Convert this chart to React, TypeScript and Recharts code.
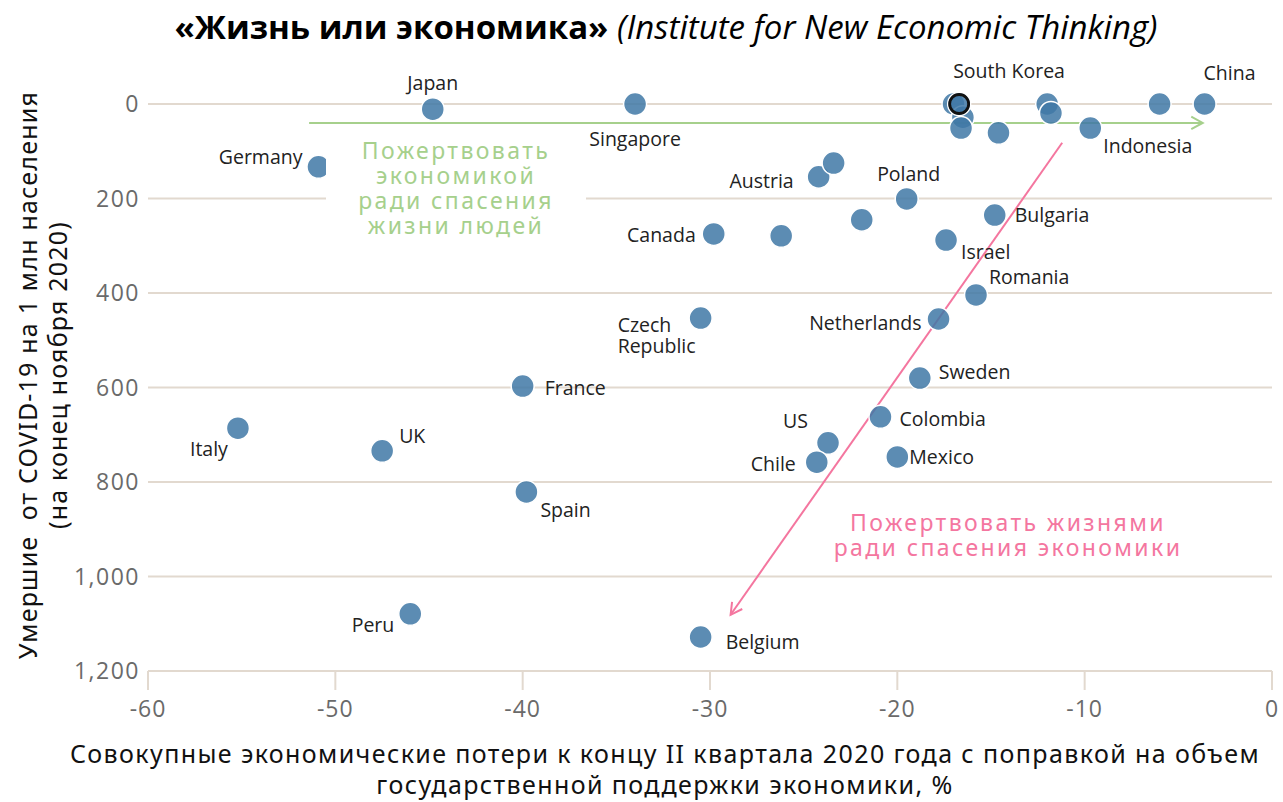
import React from "react";
import {
  ScatterChart,
  Scatter,
  XAxis,
  YAxis,
  CartesianGrid,
  ReferenceLine,
} from "recharts";

// ---- data ----
const countries: string[] = [
  "Japan", "Singapore", "Germany", "", "", "", "", "", "", "Indonesia", "", "China",
  "Austria", "", "Poland", "", "", "Canada", "Bulgaria", "Israel", "Romania", "Netherlands",
  "Czech Republic", "France", "Sweden", "Colombia", "US", "Chile", "Mexico", "Italy", "UK",
  "Spain", "Peru", "Belgium", "South Korea",
];
const economicLoss: number[] = [
  -44.8, -34.0, -50.9, -17.0, -16.5, -16.6, -14.6, -12.0, -11.8, -9.7, -6.0, -3.6,
  -24.2, -23.4, -19.5, -21.9, -26.2, -29.8, -14.8, -17.4, -15.8, -17.8,
  -30.5, -40.0, -18.8, -20.9, -23.7, -24.3, -20.0, -55.2, -47.5,
  -39.8, -46.0, -30.5, -16.7,
];
const deathsPerMillion: number[] = [
  11, 0, 133, 0, 28, 51, 61, 0, 19, 51, 0, 0,
  154, 125, 201, 245, 279, 275, 235, 288, 404, 455,
  453, 597, 580, 662, 717, 758, 747, 686, 734,
  821, 1079, 1128, 0,
];
const xTicks: number[] = [-60, -50, -40, -30, -20, -10, 0];
const yTicks: number[] = [0, 200, 400, 600, 800, 1000, 1200];
const highlightedCountry = "South Korea";

// arrows (data coordinates)
const greenArrow = { x: [-51.4, -3.7], y: [40, 40] };
const pinkArrow = { x: [-11.2, -28.9], y: [82, 1081] };

// ---- label placement (presentation only) ----
type Placement = { dx: number; dy: number; anchor: "start" | "middle" | "end"; lines?: string[] };
const labelPlacement: Record<string, Placement> = {
  Japan: { dx: 0, dy: -27, anchor: "middle" },
  Singapore: { dx: 0, dy: 34, anchor: "middle" },
  Germany: { dx: -16, dy: -10, anchor: "end" },
  "South Korea": { dx: -6, dy: -34, anchor: "start" },
  China: { dx: -1, dy: -32, anchor: "start" },
  Indonesia: { dx: 13, dy: 17, anchor: "start" },
  Austria: { dx: -25, dy: 4, anchor: "end" },
  Poland: { dx: 2, dy: -25, anchor: "middle" },
  Bulgaria: { dx: 20, dy: -1, anchor: "start" },
  Canada: { dx: -18, dy: 1, anchor: "end" },
  Israel: { dx: 15, dy: 11, anchor: "start" },
  Romania: { dx: 13, dy: -18, anchor: "start" },
  Netherlands: { dx: -17, dy: 4, anchor: "end" },
  "Czech Republic": { dx: -83, dy: 6, anchor: "start", lines: ["Czech", "Republic"] },
  France: { dx: 22, dy: 1, anchor: "start" },
  Sweden: { dx: 19, dy: -7, anchor: "start" },
  Colombia: { dx: 19, dy: 2, anchor: "start" },
  US: { dx: -20, dy: -22, anchor: "end" },
  Chile: { dx: -21, dy: 1, anchor: "end" },
  Mexico: { dx: 12, dy: 0, anchor: "start" },
  Italy: { dx: -10, dy: 20, anchor: "end" },
  UK: { dx: 17, dy: -15, anchor: "start" },
  Spain: { dx: 14, dy: 18, anchor: "start" },
  Peru: { dx: -16, dy: 11, anchor: "end" },
  Belgium: { dx: 25, dy: 5, anchor: "start" },
};

const points = countries.map((name, i) => ({
  name,
  x: economicLoss[i],
  y: deathsPerMillion[i],
}));

const POINT_COLOR = "#3f78a6";
const GRID_COLOR = "#e2d9cf";
const GREEN = "#a6d08c";
const PINK = "#f4769f";

const Dot = (props: any) => {
  const { cx, cy, payload } = props;
  if (cx == null || cy == null) return <g />;
  const hl = payload && payload.name === highlightedCountry;
  return (
    <g>
      <circle cx={cx} cy={cy} r={11.5} fill={POINT_COLOR} fillOpacity={0.85} stroke="#ffffff" strokeWidth={1.5} />
      {hl && <circle cx={cx} cy={cy} r={9.5} fill="none" stroke="#111" strokeWidth={2.8} />}
    </g>
  );
};

const Label = (props: any) => {
  const { cx, cy, payload } = props;
  if (cx == null || cy == null || !payload || !payload.name) return <g />;
  const p = labelPlacement[payload.name];
  if (!p) return <g />;
  const lines = p.lines || [payload.name];
  return (
    <g>
      {lines.map((t, k) => (
        <text
          key={k}
          x={cx + p.dx}
          y={cy + p.dy + k * 21}
          textAnchor={p.anchor}
          dominantBaseline="central"
          fontFamily="'Open Sans', sans-serif"
          fontSize={19.5}
          fill="#222"
        >
          {t}
        </text>
      ))}
    </g>
  );
};

const arrowShape = (color: string) => (props: any) => {
  const { x1, y1, x2, y2 } = props;
  if ([x1, y1, x2, y2].some((v) => v == null || isNaN(v))) return <g />;
  const ang = Math.atan2(y2 - y1, x2 - x1);
  const len = 13;
  const spread = 0.5;
  const ax = x2 - len * Math.cos(ang - spread);
  const ay = y2 - len * Math.sin(ang - spread);
  const bx = x2 - len * Math.cos(ang + spread);
  const by = y2 - len * Math.sin(ang + spread);
  return (
    <g>
      <line x1={x1} y1={y1} x2={x2} y2={y2} stroke={color} strokeWidth={2} />
      <polyline points={`${ax},${ay} ${x2},${y2} ${bx},${by}`} fill="none" stroke={color} strokeWidth={2} />
    </g>
  );
};

export default function App() {
  return (
    <div
      style={{
        position: "absolute",
        left: 0,
        top: 0,
        width: 1283,
        height: 802,
        overflow: "hidden",
        background: "#fff",
      }}
    >
      <div
        style={{
          position: "absolute",
          left: 0,
          top: 6,
          width: 1332,
          textAlign: "center",
          fontFamily: "'Open Sans', sans-serif",
          fontSize: 33,
          lineHeight: "42px",
          color: "#000",
          whiteSpace: "nowrap",
        }}
      >
        <span style={{ fontWeight: 700 }}>«Жизнь или экономика»</span>{" "}
        <span style={{ fontStyle: "italic", fontWeight: 400 }}>(Institute for New Economic Thinking)</span>
      </div>

      <div style={{ position: "absolute", left: 0, top: 0 }}>
        <ScatterChart
          width={1283}
          height={802}
          margin={{ top: 104, right: 11, left: 88, bottom: 101 }}
        >
          <CartesianGrid horizontal vertical={false} stroke={GRID_COLOR} strokeWidth={2} />
          <XAxis
            dataKey="x"
            type="number"
            domain={[-60, 0]}
            ticks={xTicks}
            interval={0}
            axisLine={false}
            tickLine={{ stroke: GRID_COLOR, strokeWidth: 2 }}
            tickSize={19}
            tickMargin={11}
            height={30}
            tick={{ fontSize: 23, fill: "#6a6a6a", fontFamily: "'Open Sans', sans-serif", letterSpacing: 1 }}
          />
          <YAxis
            dataKey="y"
            type="number"
            domain={[0, 1200]}
            reversed
            ticks={yTicks}
            interval={0}
            width={60}
            axisLine={false}
            tickLine={false}
            tickFormatter={(v: number) => v.toLocaleString("en-US")}
            tick={{ fontSize: 23, fill: "#6a6a6a", fontFamily: "'Open Sans', sans-serif", letterSpacing: 1.5 }}
          />
          <ReferenceLine
            segment={[
              { x: greenArrow.x[0], y: greenArrow.y[0] },
              { x: greenArrow.x[1], y: greenArrow.y[1] },
            ]}
            shape={arrowShape(GREEN)}
          />
          <ReferenceLine
            segment={[
              { x: pinkArrow.x[0], y: pinkArrow.y[0] },
              { x: pinkArrow.x[1], y: pinkArrow.y[1] },
            ]}
            shape={arrowShape(PINK)}
          />
          <Scatter data={points} shape={Dot} isAnimationActive={false} />
          <Scatter data={points} shape={Label} isAnimationActive={false} />
        </ScatterChart>
      </div>

      {/* green annotation */}
      <div
        style={{
          position: "absolute",
          left: 326,
          top: 138,
          width: 260,
          background: "#fff",
          textAlign: "center",
          fontFamily: "'Noto Sans', sans-serif",
          fontSize: 23,
          lineHeight: "25px",
          letterSpacing: "2.4px",
          color: GREEN,
        }}
      >
        Пожертвовать
        <br />
        экономикой
        <br />
        ради спасения
        <br />
        жизни людей
      </div>

      {/* pink annotation */}
      <div
        style={{
          position: "absolute",
          left: 788,
          top: 510,
          width: 440,
          textAlign: "center",
          fontFamily: "'Noto Sans', sans-serif",
          fontSize: 23,
          lineHeight: "25px",
          letterSpacing: "2.4px",
          color: PINK,
        }}
      >
        Пожертвовать жизнями
        <br />
        ради спасения экономики
      </div>

      {/* y axis title */}
      <div
        style={{
          position: "absolute",
          left: 43 - 350,
          top: 375 - 31,
          width: 700,
          height: 62,
          transform: "rotate(-90deg)",
          textAlign: "center",
          fontFamily: "'Noto Sans', sans-serif",
          fontSize: 25,
          lineHeight: "30px",
          letterSpacing: "1.2px",
          color: "#111",
          whiteSpace: "pre",
        }}
      >
        {"Умершие  от COVID-19 на 1 млн населения"}
        <br />
        {"(на конец ноября 2020)"}
      </div>

      {/* x axis title */}
      <div
        style={{
          position: "absolute",
          left: 665 - 640,
          top: 738,
          width: 1280,
          textAlign: "center",
          fontFamily: "'Noto Sans', sans-serif",
          fontSize: 25,
          lineHeight: "31px",
          letterSpacing: "1.4px",
          color: "#111",
        }}
      >
        Совокупные экономические потери к концу II квартала 2020 года с поправкой на объем
        <br />
        государственной поддержки экономики, %
      </div>
    </div>
  );
}
